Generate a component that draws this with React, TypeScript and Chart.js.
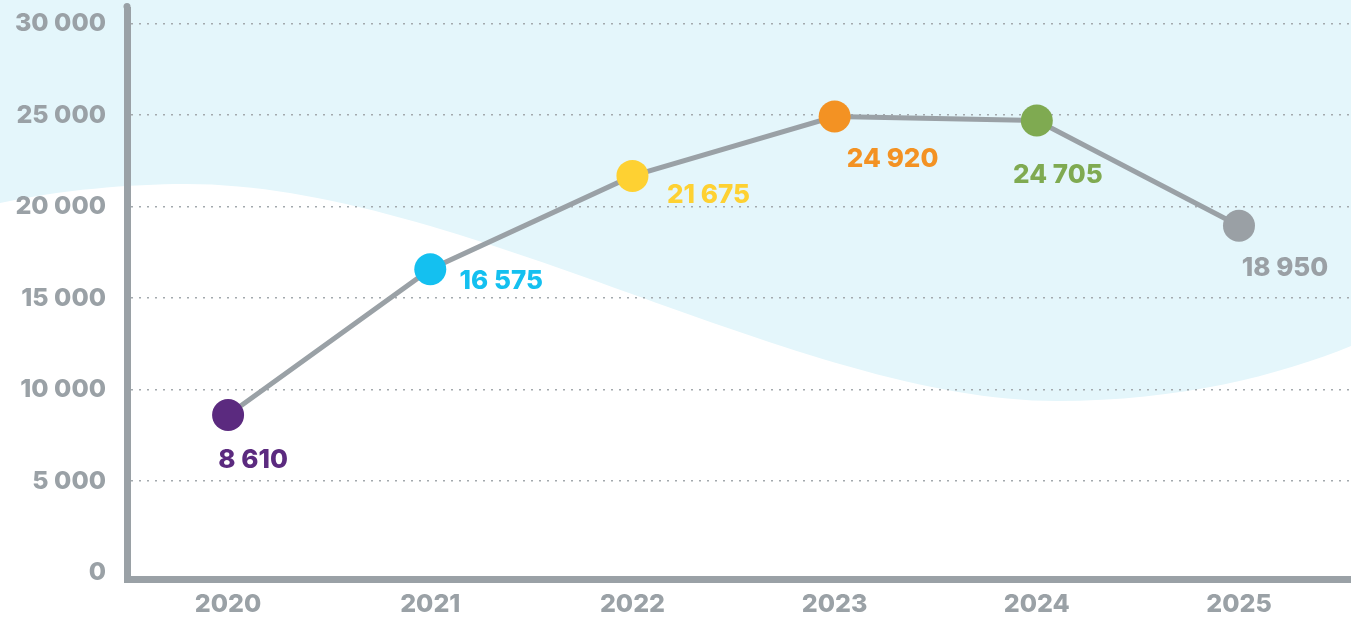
import React, { useEffect, useRef } from "react";
import { Chart, registerables } from "chart.js";

Chart.register(...registerables);

const years = [2020, 2021, 2022, 2023, 2024, 2025];
const values = [8610, 16575, 21675, 24920, 24705, 18950];
const valueLabels = ["8 610", "16 575", "21 675", "24 920", "24 705", "18 950"];
const pointColors = ["#5b2a7f", "#14c0f0", "#fed132", "#f39223", "#7faa51", "#9aa0a5"];
const yTickValues = [0, 5000, 10000, 15000, 20000, 25000, 30000];

const GRAY = "#9aa1a6";
const FONT = "Inter, 'Open Sans', sans-serif";

function fmt(v: number): string {
  const s = Math.round(v).toString();
  return s.replace(/\B(?=(\d{3})+(?!\d))/g, " ");
}

const wavePlugin = {
  id: "wave",
  beforeDraw(chart: any) {
    const { ctx, width, height } = chart;
    const sx = width / 1351;
    const sy = height / 617;
    ctx.save();
    ctx.fillStyle = "#e4f6fb";
    ctx.beginPath();
    ctx.moveTo(0, 0);
    ctx.lineTo(0, 203 * sy);
    ctx.bezierCurveTo(60 * sx, 190 * sy, 130 * sx, 184 * sy, 186 * sx, 184 * sy);
    ctx.bezierCurveTo(460 * sx, 184 * sy, 800 * sx, 401 * sy, 1057 * sx, 401 * sy);
    ctx.bezierCurveTo(1180 * sx, 401 * sy, 1280 * sx, 375 * sy, width, 346 * sy);
    ctx.lineTo(width, 0);
    ctx.closePath();
    ctx.fill();
    ctx.restore();
  },
};

const labelOffsets = [
  [25, 45],
  [71, 12],
  [76, 19],
  [58, 43],
  [21, 55],
  [46, 42],
];

const labelPlugin = {
  id: "valueLabels",
  afterDatasetsDraw(chart: any) {
    const { ctx } = chart;
    const meta = chart.getDatasetMeta(0);
    ctx.save();
    ctx.font = `800 26px ${FONT}`;
    ctx.textAlign = "center";
    ctx.textBaseline = "middle";
    meta.data.forEach((pt: any, i: number) => {
      const [dx, dy] = labelOffsets[i];
      ctx.fillStyle = pointColors[i];
      ctx.fillText(valueLabels[i], pt.x + dx, pt.y + dy);
    });
    ctx.restore();
  },
};

const axisCapPlugin = {
  id: "axisCap",
  afterDraw(chart: any) {
    const { ctx, chartArea } = chart;
    ctx.save();
    ctx.fillStyle = GRAY;
    ctx.beginPath();
    ctx.arc(chartArea.left, chartArea.top - 3.5, 3.5, 0, Math.PI * 2);
    ctx.fill();
    ctx.restore();
  },
};

export default function App() {
  const ref = useRef<HTMLCanvasElement | null>(null);
  useEffect(() => {
    if (!ref.current) return;
    const chart = new Chart(ref.current, {
      type: "line",
      data: {
        datasets: [
          {
            data: years.map((y, i) => ({ x: y, y: values[i] })),
            borderColor: GRAY,
            borderWidth: 5,
            tension: 0,
            clip: false,
            pointRadius: 16,
            pointHoverRadius: 16,
            pointBorderWidth: 0,
            pointBackgroundColor: pointColors,
            pointBorderColor: pointColors,
          },
        ],
      },
      plugins: [wavePlugin, labelPlugin, axisCapPlugin],
      options: {
        animation: false,
        responsive: true,
        maintainAspectRatio: false,
        layout: { autoPadding: false, padding: { top: 10, left: 0, right: 0, bottom: 0 } },
        plugins: { legend: { display: false }, tooltip: { enabled: false } },
        scales: {
          x: {
            type: "linear",
            min: 2019.5,
            max: 2025.554,
            afterBuildTicks: (scale: any) => {
              scale.ticks = years.map((v) => ({ value: v }));
            },
            afterFit: (scale: any) => {
              scale.height = 38;
              scale.paddingLeft = 0;
              scale.paddingRight = 0;
            },
            grid: { display: false, drawTicks: false },
            border: { display: true, color: GRAY, width: 7 },
            ticks: {
              padding: 10,
              color: GRAY,
              font: { family: FONT, size: 25, weight: "800" },
              callback: (v: any) => String(v),
            },
          },
          y: {
            min: -350,
            max: 30740,
            afterBuildTicks: (scale: any) => {
              scale.ticks = yTickValues.map((v) => ({ value: v }));
            },
            afterFit: (scale: any) => {
              scale.width = 127;
              scale.paddingTop = 0;
              scale.paddingBottom = 0;
            },
            grid: {
              drawTicks: false,
              color: (c: any) => (c.tick && c.tick.value === 0 ? "rgba(0,0,0,0)" : "#a3a9ad"),
              lineWidth: 1.5,
            },
            border: { display: true, color: GRAY, width: 7, dash: [2, 6] },
            ticks: {
              padding: 21,
              color: GRAY,
              font: { family: FONT, size: 25, weight: "800" },
              callback: (v: any) => fmt(Number(v)),
            },
          },
        },
      },
    });
    return () => chart.destroy();
  }, []);
  return (
    <div style={{ position: "fixed", left: 0, top: 0, width: 1351, height: 617, background: "#ffffff" }}>
      <canvas ref={ref} />
    </div>
  );
}
